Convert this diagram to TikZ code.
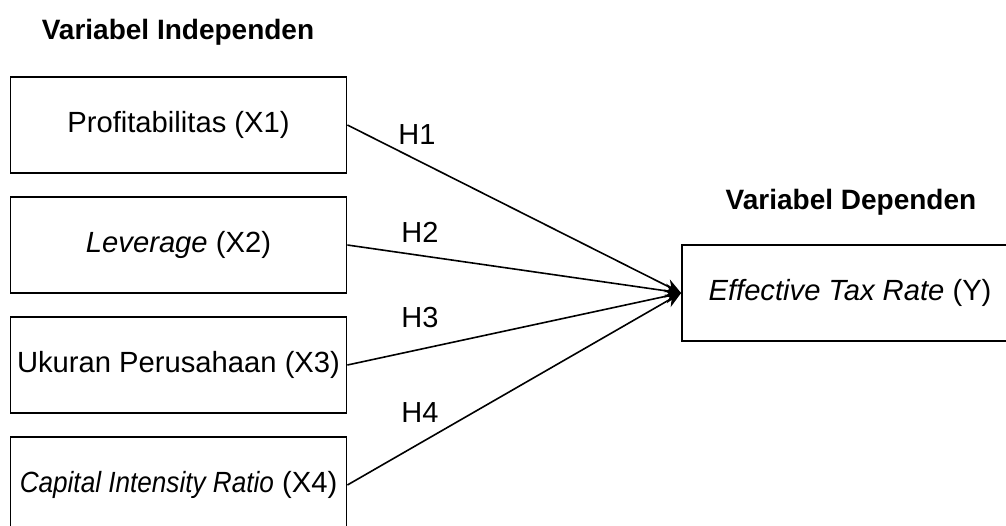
\documentclass[tikz,border=0pt]{standalone}
\usepackage{fontspec}
\setmainfont{Liberation Sans}
\usetikzlibrary{arrows.meta}

\begin{document}
\begin{tikzpicture}[x=0.5pt,y=-0.5pt,>={Stealth[length=8pt,width=7pt]},
  varbox/.style={draw,line width=0.9pt,minimum width=168pt,minimum height=48pt,inner sep=0pt,font=\fontsize{14.6}{17}\selectfont},
  hlabel/.style={font=\fontsize{14.5}{17}\selectfont},
  title/.style={font=\bfseries\fontsize{14}{17}\selectfont}]
  \useasboundingbox (0,0) rectangle (1006,525);
  \node[title] (tind) at (178,32) {Variabel Independen};
  \node[title] (tdep) at (851,202) {Variabel Dependen};
  \node[varbox] (x1) at (178.5,125) {Profitabilitas (X1)};
  \node[varbox] (x2) at (178.5,245) {\textit{Leverage} (X2)};
  \node[varbox] (x3) at (178.5,365) {Ukuran Perusahaan (X3)};
  \node[varbox] (x4) at (178.5,485) {\scalebox{0.895}[1]{\textit{Capital Intensity Ratio}} (X4)};
  \node[varbox] (y) at (850,293) {\textit{Effective Tax Rate} (Y)};
  \draw[->,line width=0.8pt] (x1.east) -- (y.west);
  \draw[->,line width=0.8pt] (x2.east) -- (y.west);
  \draw[->,line width=0.8pt] (x3.east) -- (y.west);
  \draw[->,line width=0.8pt] (x4.east) -- (y.west);
  \node[hlabel] (h1) at (417,135) {H1};
  \node[hlabel] (h2) at (420,232) {H2};
  \node[hlabel] (h3) at (420,318) {H3};
  \node[hlabel] (h4) at (420,413) {H4};
\end{tikzpicture}
\end{document}
